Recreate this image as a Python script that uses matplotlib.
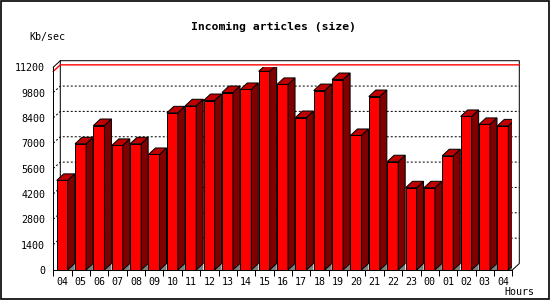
import matplotlib
matplotlib.use("Agg")
import matplotlib.pyplot as plt
from matplotlib.patches import Polygon, Rectangle

# hourly incoming volume (Kb/sec)
hours = ["04", "05", "06", "07", "08", "09", "10", "11", "12", "13", "14", "15",
         "16", "17", "18", "19", "20", "21", "22", "23", "00", "01", "02", "03", "04"]
kbps = [4950, 6970, 7980, 6880, 6970, 6380, 8680, 9070, 9360, 9800, 9970, 10970,
        10250, 8420, 9910, 10520, 7430, 9580, 5980, 4540, 4540, 6310, 8480, 8040, 7960]
yticks = [0, 1400, 2800, 4200, 5600, 7000, 8400, 9800, 11200]

FRONT = "#ff0000"
SIDE = "#800000"
TOP = "#c00000"
FLOOR = "#808080"

fig = plt.figure(figsize=(5.5, 3), dpi=100)
fig.patch.set_facecolor("white")
ax = fig.add_axes([53.3 / 550, 30 / 300, 459 / 550, 202.8 / 300])
ax.set_xlim(0, len(hours))
ax.set_ylim(0, yticks[-1])
ax.set_facecolor("none")
for s in ax.spines.values():
    s.set_visible(False)

# 3d depth in data units (about 7 px right, 6.5 px up)
dx = 7 / (459 / len(hours))
dy = 6.5 * yticks[-1] / 202.8
off = 0.185   # gap before bar front
bw = 0.6      # bar front width
lw = 0.72
n = len(hours)
ymax = yticks[-1]

# back wall frame
ax.plot([dx, dx, n + dx, n + dx, n], [dy, ymax + dy, ymax + dy, dy, 0],
        color="black", lw=lw, clip_on=False, zorder=1)
ax.plot([0, dx], [ymax, ymax + dy], color="black", lw=lw, clip_on=False, zorder=1)
ax.plot([0, 0], [0, ymax], color="black", lw=lw, clip_on=False, zorder=5)
ax.plot([0, n], [0, 0], color="black", lw=lw, clip_on=False, zorder=5)

# dotted grid on back wall + left wall
for v in yticks[1:-1]:
    ax.plot([0, dx, n + dx], [v, v + dy, v + dy], color="black", lw=lw,
            dashes=(2, 2), clip_on=False, zorder=1)

# max line in red
mx = max(kbps)
ax.plot([0, dx, n + dx], [mx, mx + dy, mx + dy], color="red", lw=1.0,
        clip_on=False, zorder=1)

# bars
for i, v in enumerate(kbps):
    x0 = i + off
    x1 = x0 + bw
    ax.add_patch(Polygon([(x1, 0), (x1 + dx, dy), (x1 + dx, 0)], closed=True,
                         facecolor=FLOOR, edgecolor="none", zorder=2))
    ax.add_patch(Rectangle((x0, 0), bw, v, facecolor=FRONT, edgecolor="black",
                           lw=lw, zorder=3))
    ax.add_patch(Polygon([(x1, 0), (x1 + dx, dy), (x1 + dx, v + dy), (x1, v)],
                         closed=True, facecolor=SIDE, edgecolor="black", lw=lw, zorder=3))
    ax.add_patch(Polygon([(x0, v), (x0 + dx, v + dy), (x1 + dx, v + dy), (x1, v)],
                         closed=True, facecolor=TOP, edgecolor="black", lw=lw, zorder=3))

mono = "DejaVu Sans Mono"
ax.set_yticks(yticks)
ax.set_yticklabels([str(t) for t in yticks], fontfamily=mono, fontsize=7.2)
ax.tick_params(axis="y", length=0, pad=5.8)

ax.set_xticks(range(n + 1))
ax.set_xticklabels([])
ax.set_xticks([i + 0.5 for i in range(n)], minor=True)
ax.set_xticklabels(hours, minor=True, fontfamily=mono, fontsize=7.2)
ax.tick_params(axis="x", which="major", length=4.3, width=lw, color="black")
ax.tick_params(axis="x", which="minor", length=0, pad=5)

fig.text(0.497, 1 - 27 / 300, "Incoming articles (size)", ha="center", va="center",
         fontfamily=mono, fontweight="bold", fontsize=8.2)
fig.text(47 / 550, 1 - 37 / 300, "Kb/sec", ha="center", va="center",
         fontfamily=mono, fontsize=7.2)
fig.text(519 / 550, 1 - 292 / 300, "Hours", ha="center", va="center",
         fontfamily=mono, fontsize=7.2)

# outer border
fig.patches.append(Rectangle((0.5 / 550, 1.5 / 300), 548 / 550, 297.5 / 300,
                             transform=fig.transFigure, fill=False,
                             edgecolor="black", lw=1.2))

fig.savefig("out.png", dpi=100)
